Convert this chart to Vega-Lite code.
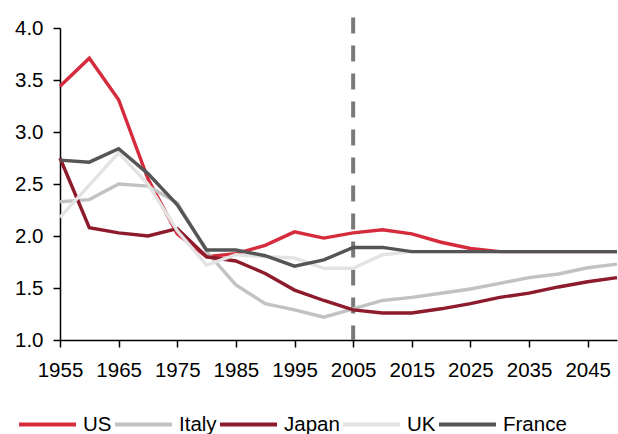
{
  "$schema": "https://vega.github.io/schema/vega-lite/v6.json",
  "width": 557,
  "height": 312,
  "autosize": "none",
  "padding": {"left": 60, "top": 28, "right": 1, "bottom": 94},
  "background": "white",
  "config": {
    "view": {"stroke": null},
    "font": "Liberation Sans",
    "axis": {"grid": false, "domainColor": "black", "tickColor": "black", "domainWidth": 1.5, "tickWidth": 1.5, "labelColor": "black", "labelFont": "Liberation Sans", "labelFontSize": 20.5, "tickSize": 7, "title": null}
  },
  "datasets": {
    "tfr": [
      {"year": 1955, "country": "US", "tfr": 3.44}, {"year": 1960, "country": "US", "tfr": 3.71}, {"year": 1965, "country": "US", "tfr": 3.31}, {"year": 1970, "country": "US", "tfr": 2.55}, {"year": 1975, "country": "US", "tfr": 2.02}, {"year": 1980, "country": "US", "tfr": 1.80}, {"year": 1985, "country": "US", "tfr": 1.83}, {"year": 1990, "country": "US", "tfr": 1.91}, {"year": 1995, "country": "US", "tfr": 2.04}, {"year": 2000, "country": "US", "tfr": 1.98}, {"year": 2005, "country": "US", "tfr": 2.03}, {"year": 2010, "country": "US", "tfr": 2.06}, {"year": 2015, "country": "US", "tfr": 2.02}, {"year": 2020, "country": "US", "tfr": 1.94}, {"year": 2025, "country": "US", "tfr": 1.88}, {"year": 2030, "country": "US", "tfr": 1.85}, {"year": 2035, "country": "US", "tfr": 1.85}, {"year": 2040, "country": "US", "tfr": 1.85}, {"year": 2045, "country": "US", "tfr": 1.85}, {"year": 2050, "country": "US", "tfr": 1.85},
      {"year": 1955, "country": "Italy", "tfr": 2.33}, {"year": 1960, "country": "Italy", "tfr": 2.35}, {"year": 1965, "country": "Italy", "tfr": 2.50}, {"year": 1970, "country": "Italy", "tfr": 2.48}, {"year": 1975, "country": "Italy", "tfr": 2.32}, {"year": 1980, "country": "Italy", "tfr": 1.85}, {"year": 1985, "country": "Italy", "tfr": 1.53}, {"year": 1990, "country": "Italy", "tfr": 1.35}, {"year": 1995, "country": "Italy", "tfr": 1.29}, {"year": 2000, "country": "Italy", "tfr": 1.22}, {"year": 2005, "country": "Italy", "tfr": 1.30}, {"year": 2010, "country": "Italy", "tfr": 1.38}, {"year": 2015, "country": "Italy", "tfr": 1.41}, {"year": 2020, "country": "Italy", "tfr": 1.45}, {"year": 2025, "country": "Italy", "tfr": 1.49}, {"year": 2030, "country": "Italy", "tfr": 1.545}, {"year": 2035, "country": "Italy", "tfr": 1.60}, {"year": 2040, "country": "Italy", "tfr": 1.635}, {"year": 2045, "country": "Italy", "tfr": 1.695}, {"year": 2050, "country": "Italy", "tfr": 1.73},
      {"year": 1955, "country": "Japan", "tfr": 2.75}, {"year": 1960, "country": "Japan", "tfr": 2.08}, {"year": 1965, "country": "Japan", "tfr": 2.03}, {"year": 1970, "country": "Japan", "tfr": 2.00}, {"year": 1975, "country": "Japan", "tfr": 2.07}, {"year": 1980, "country": "Japan", "tfr": 1.80}, {"year": 1985, "country": "Japan", "tfr": 1.76}, {"year": 1990, "country": "Japan", "tfr": 1.64}, {"year": 1995, "country": "Japan", "tfr": 1.48}, {"year": 2000, "country": "Japan", "tfr": 1.38}, {"year": 2005, "country": "Japan", "tfr": 1.29}, {"year": 2010, "country": "Japan", "tfr": 1.26}, {"year": 2015, "country": "Japan", "tfr": 1.26}, {"year": 2020, "country": "Japan", "tfr": 1.30}, {"year": 2025, "country": "Japan", "tfr": 1.35}, {"year": 2030, "country": "Japan", "tfr": 1.41}, {"year": 2035, "country": "Japan", "tfr": 1.45}, {"year": 2040, "country": "Japan", "tfr": 1.51}, {"year": 2045, "country": "Japan", "tfr": 1.56}, {"year": 2050, "country": "Japan", "tfr": 1.60},
      {"year": 1955, "country": "UK", "tfr": 2.18}, {"year": 1960, "country": "UK", "tfr": 2.49}, {"year": 1965, "country": "UK", "tfr": 2.80}, {"year": 1970, "country": "UK", "tfr": 2.50}, {"year": 1975, "country": "UK", "tfr": 2.05}, {"year": 1980, "country": "UK", "tfr": 1.72}, {"year": 1985, "country": "UK", "tfr": 1.82}, {"year": 1990, "country": "UK", "tfr": 1.80}, {"year": 1995, "country": "UK", "tfr": 1.79}, {"year": 2000, "country": "UK", "tfr": 1.69}, {"year": 2005, "country": "UK", "tfr": 1.69}, {"year": 2010, "country": "UK", "tfr": 1.82}, {"year": 2015, "country": "UK", "tfr": 1.85}, {"year": 2020, "country": "UK", "tfr": 1.85}, {"year": 2025, "country": "UK", "tfr": 1.85}, {"year": 2030, "country": "UK", "tfr": 1.85}, {"year": 2035, "country": "UK", "tfr": 1.85}, {"year": 2040, "country": "UK", "tfr": 1.85}, {"year": 2045, "country": "UK", "tfr": 1.85}, {"year": 2050, "country": "UK", "tfr": 1.85},
      {"year": 1955, "country": "France", "tfr": 2.73}, {"year": 1960, "country": "France", "tfr": 2.71}, {"year": 1965, "country": "France", "tfr": 2.84}, {"year": 1970, "country": "France", "tfr": 2.60}, {"year": 1975, "country": "France", "tfr": 2.30}, {"year": 1980, "country": "France", "tfr": 1.865}, {"year": 1985, "country": "France", "tfr": 1.865}, {"year": 1990, "country": "France", "tfr": 1.81}, {"year": 1995, "country": "France", "tfr": 1.71}, {"year": 2000, "country": "France", "tfr": 1.77}, {"year": 2005, "country": "France", "tfr": 1.89}, {"year": 2010, "country": "France", "tfr": 1.89}, {"year": 2015, "country": "France", "tfr": 1.85}, {"year": 2020, "country": "France", "tfr": 1.85}, {"year": 2025, "country": "France", "tfr": 1.85}, {"year": 2030, "country": "France", "tfr": 1.85}, {"year": 2035, "country": "France", "tfr": 1.85}, {"year": 2040, "country": "France", "tfr": 1.85}, {"year": 2045, "country": "France", "tfr": 1.85}, {"year": 2050, "country": "France", "tfr": 1.85}
    ],
    "marker": [{"year": 2005, "top": 4.1, "bottom": 1.0}]
  },
  "layer": [
    {
      "data": {"name": "marker"},
      "mark": {"type": "rule", "color": "#7a7a7a", "strokeWidth": 4, "strokeDash": [16, 12], "clip": false},
      "encoding": {
        "x": {"field": "year", "type": "quantitative"},
        "y": {"field": "top", "type": "quantitative"},
        "y2": {"field": "bottom"}
      }
    },
    {
      "data": {"name": "tfr"},
      "mark": {"type": "line", "strokeWidth": 3.4},
      "encoding": {
        "x": {"field": "year", "type": "quantitative", "scale": {"domain": [1955, 2050], "nice": false, "zero": false},
              "axis": {"values": [1955, 1965, 1975, 1985, 1995, 2005, 2015, 2025, 2035, 2045], "format": "d", "labelPadding": 13, "labelFlush": false, "labelFontSize": 20.5, "labelFont": "Liberation Sans"}},
        "y": {"field": "tfr", "type": "quantitative", "scale": {"domain": [1, 4], "nice": false, "zero": false},
              "axis": {"values": [1, 1.5, 2, 2.5, 3, 3.5, 4], "format": ".1f", "labelPadding": 10, "labelFontSize": 20.5, "labelFont": "Liberation Sans"}},
        "color": {"field": "country", "type": "nominal",
                  "scale": {"domain": ["US", "Italy", "Japan", "UK", "France"], "range": ["#d52b3c", "#c2c2c2", "#8e1b2c", "#e3e3e3", "#555555"]},
                  "legend": {"title": null, "orient": "none", "direction": "horizontal", "legendX": -43, "legendY": 366,
                             "symbolType": "stroke", "symbolSize": 3249, "symbolStrokeWidth": 4, "labelFontSize": 20.5, "labelFont": "Liberation Sans", "labelColor": "black",
                             "labelOffset": 5, "columnPadding": -5, "symbolOffset": 0}},
        "order": {"field": "year", "type": "quantitative"}
      }
    }
  ]
}
